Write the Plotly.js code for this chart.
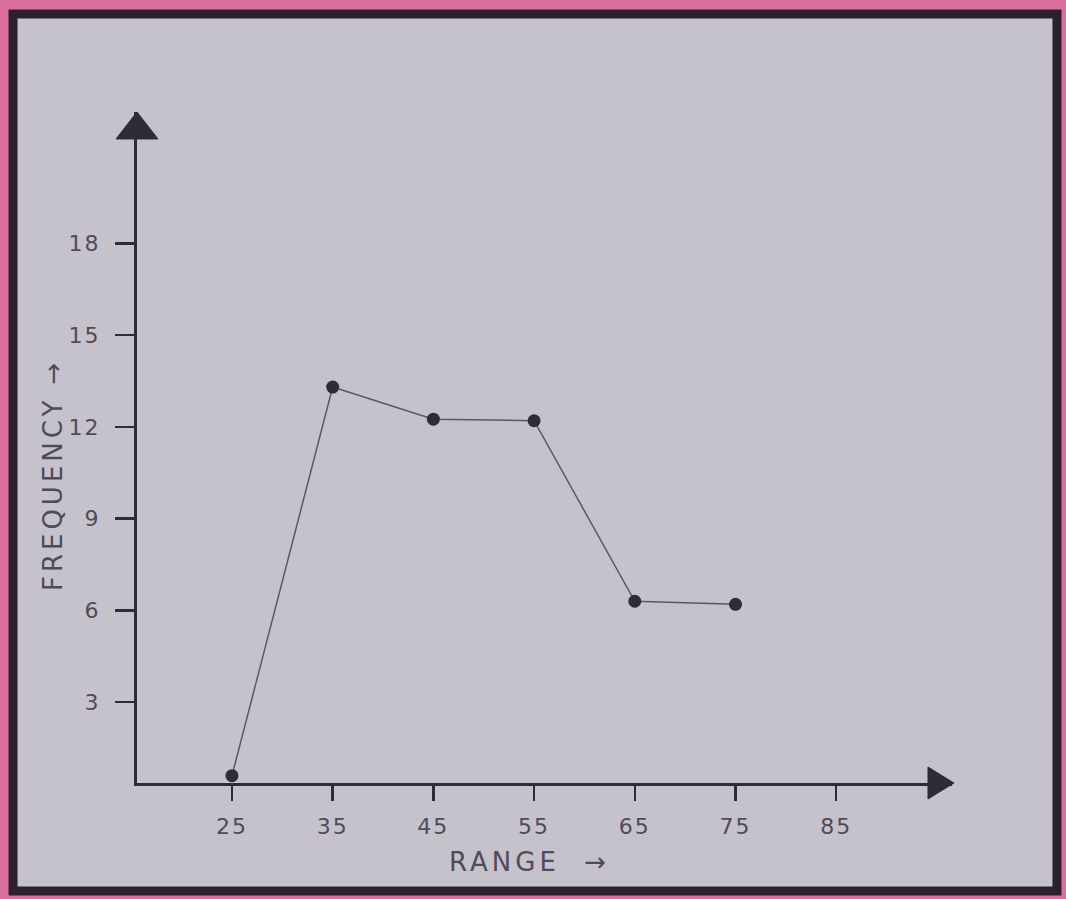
<!DOCTYPE html>
<html>
<head>
<meta charset="utf-8">
<script src="https://cdn.plot.ly/plotly-3.0.1.min.js"></script>
<style>
html,body{margin:0;padding:0;background:#d8709b;}
#chart{width:1066px;height:899px;}
#chart .annotation-text{letter-spacing:4px;}
#chart .xtick text,#chart .ytick text{letter-spacing:2px;}
</style>
</head>
<body>
<div id="chart"></div>
<script>
// Data
const ranges = [25, 35, 45, 55, 65, 75];
const frequency = [0.6, 13.3, 12.25, 12.2, 6.3, 6.2];
const xTicks = [25, 35, 45, 55, 65, 75, 85];
const yTicks = [3, 6, 9, 12, 15, 18];
const xTitle = 'RANGE  →';
const yTitle = 'FREQUENCY →';

const ink = '#2e2c35';
const pencil = '#4e4c57';
const fontFamily = '"DejaVu Sans", "Liberation Sans", sans-serif';

const trace = {
  x: ranges,
  y: frequency,
  type: 'scatter',
  mode: 'lines+markers',
  line: {color: '#5a5862', width: 1.5},
  marker: {color: ink, size: 13},
  hoverinfo: 'x+y'
};

const layout = {
  width: 1066,
  height: 899,
  margin: {l: 137, r: 114, t: 112, b: 116},
  paper_bgcolor: '#d8709b',
  plot_bgcolor: 'rgba(0,0,0,0)',
  showlegend: false,
  font: {family: fontFamily, color: pencil, size: 20},
  xaxis: {
    range: [15.57, 96.5],
    tickvals: xTicks,
    ticktext: xTicks.map(String),
    showgrid: false,
    zeroline: false,
    showline: true,
    linecolor: ink,
    linewidth: 3,
    ticks: 'outside',
    ticklen: 15,
    tickwidth: 2.5,
    tickcolor: ink,
    ticklabelstandoff: 7,
    tickfont: {family: fontFamily, size: 22, color: pencil}
  },
  yaxis: {
    range: [0.36, 22.29],
    tickvals: yTicks,
    ticktext: yTicks.map(String),
    showgrid: false,
    zeroline: false,
    showline: true,
    linecolor: ink,
    linewidth: 3,
    ticks: 'outside',
    ticklen: 19,
    tickwidth: 2.5,
    tickcolor: ink,
    ticklabelstandoff: 10,
    tickfont: {family: fontFamily, size: 22, color: pencil}
  },
  shapes: [
    // sheet of paper with dark border
    {type: 'rect', xref: 'paper', yref: 'paper', layer: 'below',
     x0: -0.1521, x1: 1.1288, y0: -0.161, y1: 1.146,
     line: {color: '#2a2030', width: 9}, fillcolor: '#c6c2cc'},
    // arrow heads at axis ends
    {type: 'path', xref: 'paper', yref: 'paper', layer: 'above',
     path: 'M 0 1.0 L -0.02577 0.9598 L 0.02577 0.9598 Z',
     line: {color: ink, width: 1}, fillcolor: ink},
    {type: 'path', xref: 'paper', yref: 'paper', layer: 'above',
     path: 'M 1.00245 0 L 0.97055 0.02385 L 0.97055 -0.02385 Z',
     line: {color: ink, width: 1}, fillcolor: ink}
  ],
  annotations: [
    {text: yTitle, xref: 'paper', yref: 'paper', x: -0.103, y: 0.459,
     textangle: -90, showarrow: false, xanchor: 'center', yanchor: 'middle',
     font: {family: fontFamily, size: 26, color: pencil}},
    {text: xTitle, xref: 'paper', yref: 'paper', x: 0.482, y: -0.1177,
     showarrow: false, xanchor: 'center', yanchor: 'middle',
     font: {family: fontFamily, size: 26, color: pencil}}
  ]
};

Plotly.newPlot('chart', [trace], layout, {displayModeBar: false, staticPlot: true});
</script>
</body>
</html>
